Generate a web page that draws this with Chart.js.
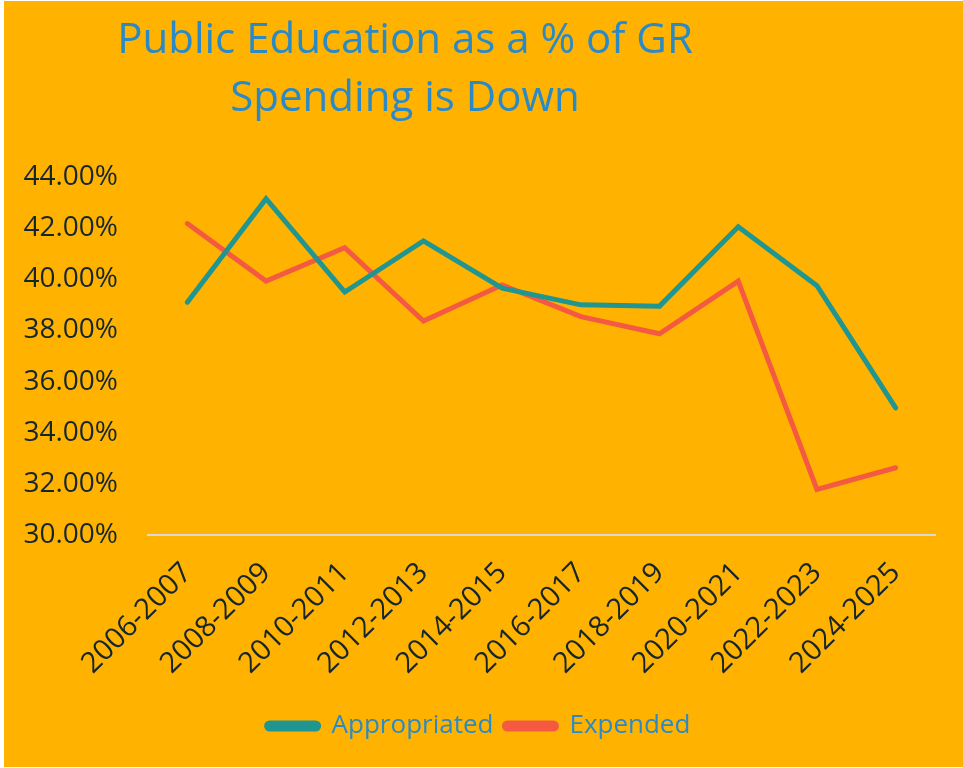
<!DOCTYPE html>
<html>
<head>
<meta charset="utf-8">
<script src="https://cdn.jsdelivr.net/npm/chart.js@4"></script>
<style>
    html, body { margin: 0; padding: 0; background: #ffffff; }
    #wrap { position: absolute; left: 4px; top: 1px; width: 959px; height: 766px; background: #FFB300; }
</style>
</head>
<body>
<div id="wrap"><canvas id="chart"></canvas></div>
<script>
// values (percent of GR spending)
const periods = ['2006-2007', '2008-2009', '2010-2011', '2012-2013', '2014-2015',
                 '2016-2017', '2018-2019', '2020-2021', '2022-2023', '2024-2025'];
const appropriated = [39.10, 43.15, 39.50, 41.50, 39.65, 39.00, 38.95, 42.05, 39.75, 34.97];
const expended = [42.18, 39.93, 41.24, 38.37, 39.78, 38.54, 37.87, 39.93, 31.78, 32.63];
const titleLines = ['Public Education as a % of GR', 'Spending is Down'];

const TEAL = '#219590';
const RED = '#F45A42';
const BLUE = '#2B8AC6';
const INK = '#17262E';

// two-line title, centred a bit left of the canvas like the original
const titlePlugin = {
    id: 'sideTitle',
    afterDraw(chart) {
        const ctx = chart.ctx;
        ctx.save();
        ctx.fillStyle = BLUE;
        ctx.font = '42px "Open Sans"';
        ctx.textAlign = 'center';
        ctx.textBaseline = 'alphabetic';
        ctx.fillText(titleLines[0], 401, 52);
        ctx.fillText(titleLines[1], 401, 110);
        ctx.restore();
    }
};

Chart.defaults.font.family = '"Open Sans", sans-serif';

new Chart(document.getElementById('chart'), {
    type: 'line',
    data: {
        labels: periods,
        datasets: [
            { label: 'Appropriated', data: appropriated, borderColor: TEAL, backgroundColor: TEAL, borderWidth: 5, pointRadius: 0, tension: 0, borderCapStyle: 'round' },
            { label: 'Expended', data: expended, borderColor: RED, backgroundColor: RED, borderWidth: 5, pointRadius: 0, tension: 0, borderCapStyle: 'round' }
        ]
    },
    options: {
        responsive: true, maintainAspectRatio: false, animation: false,
        layout: { padding: { top: 176, right: 28, left: 18, bottom: 18 } },
        scales: {
            x: {
                offset: true,
                grid: { display: false, drawTicks: false },
                border: { display: true, color: '#D9D9D9', width: 2 },
                ticks: { color: INK, font: { size: 29 }, maxRotation: 45, minRotation: 45, padding: 21, autoSkip: false },
                // let the y labels set the left edge, not the first rotated label
                afterFit: s => { s.paddingLeft = 0; }
            },
            y: {
                min: 30, max: 44,
                grid: { display: false, drawTicks: false },
                border: { display: false },
                ticks: { stepSize: 2, color: INK, font: { size: 28 }, padding: 30, callback: v => v.toFixed(2) + '%' },
                afterFit: s => { s.width = 126; }
            }
        },
        plugins: {
            legend: {
                position: 'bottom',
                labels: { color: BLUE, font: { size: 26 }, boxWidth: 52, boxHeight: 6, useBorderRadius: true, borderRadius: 3, padding: 11 }
            },
            tooltip: { enabled: false }
        }
    },
    plugins: [titlePlugin]
});
</script>
</body>
</html>
